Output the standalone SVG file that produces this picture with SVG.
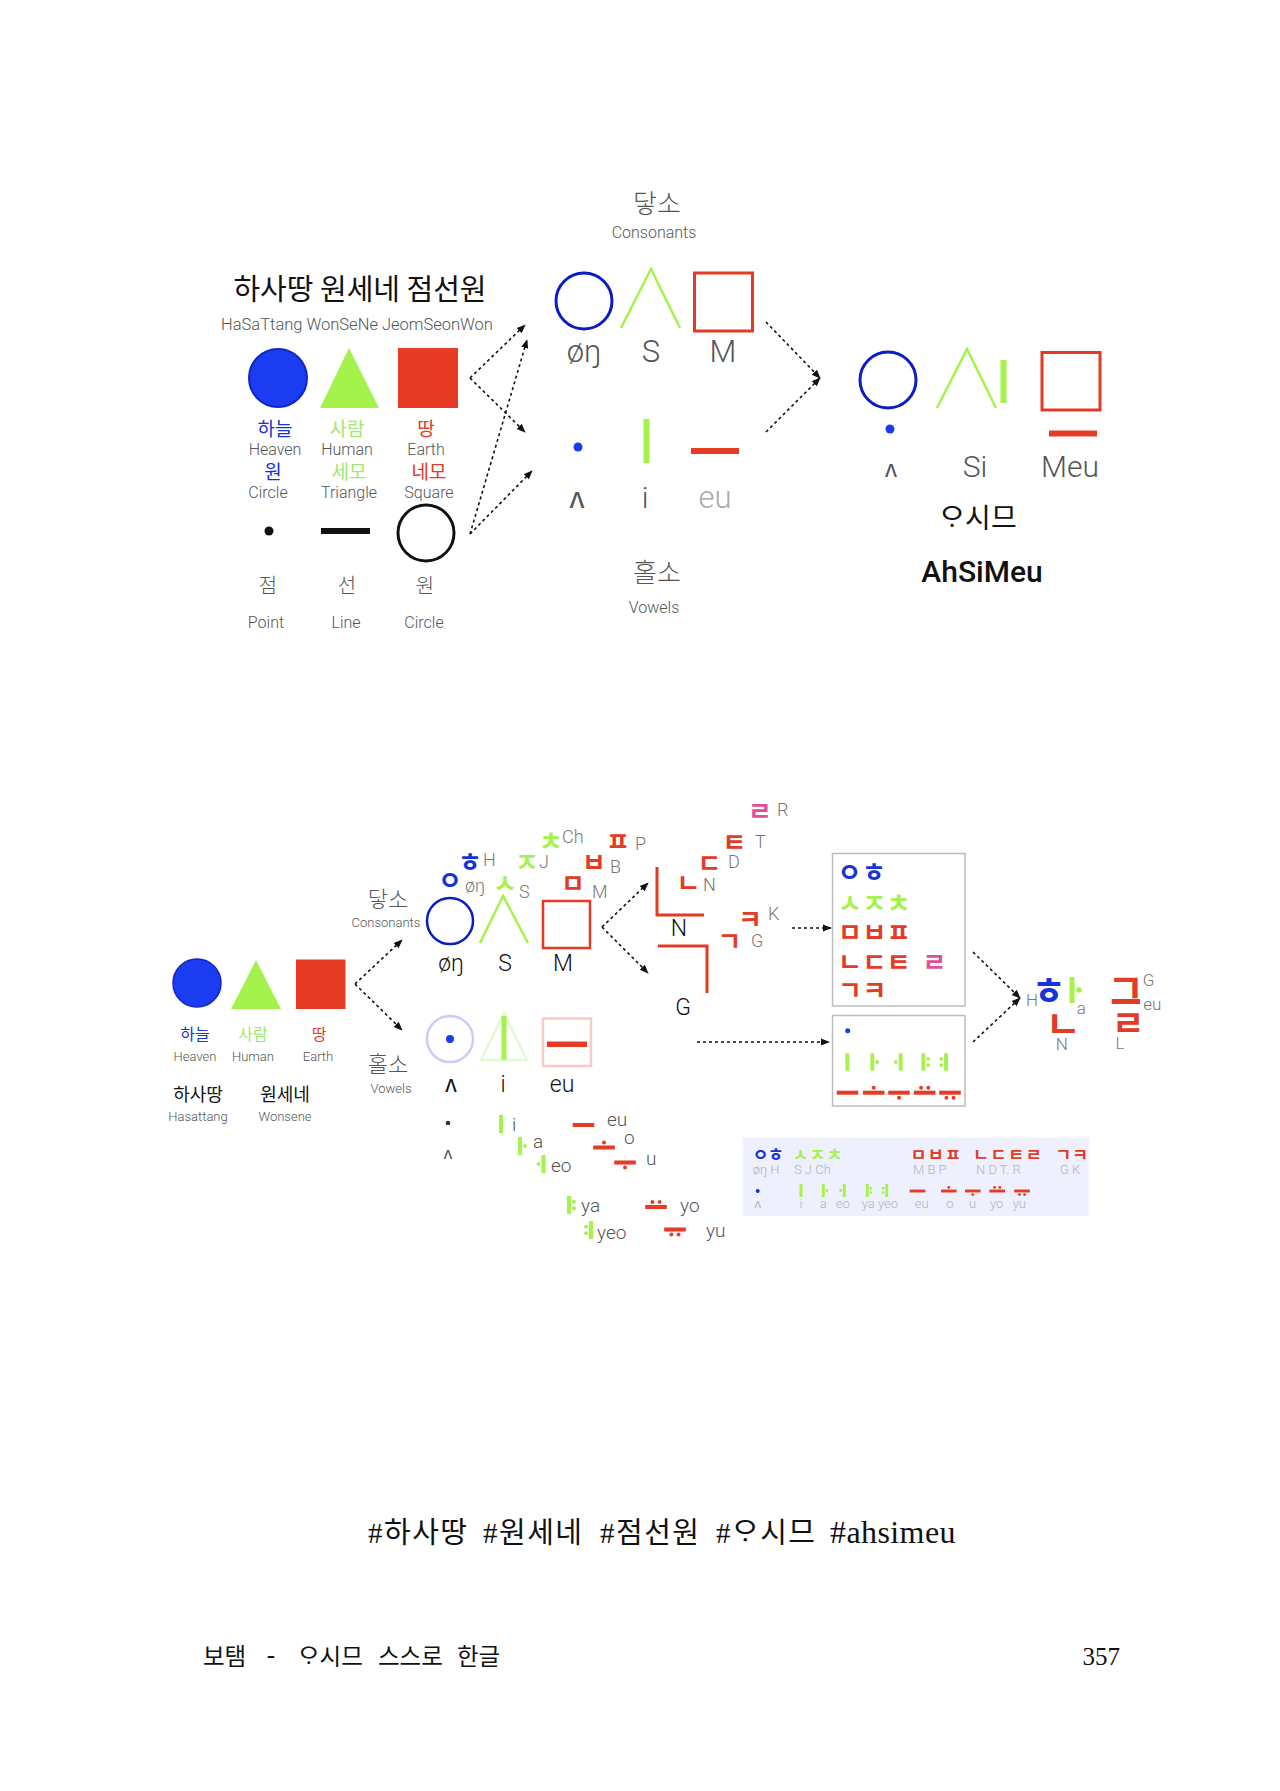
<svg xmlns="http://www.w3.org/2000/svg" xmlns:xlink="http://www.w3.org/1999/xlink" width="1280" height="1791" viewBox="0 0 1280 1791">
<defs>
<style>
.lt{font-family:Roboto,"Noto Sans CJK KR",sans-serif;font-weight:300;fill:#555;text-anchor:middle}
.ls{font-family:Roboto,"Noto Sans CJK KR",sans-serif;font-weight:300;fill:#777;text-anchor:start}
.ko{font-family:"Noto Sans CJK KR",sans-serif;font-weight:400;text-anchor:middle}
.kl{font-family:"Noto Sans CJK KR",sans-serif;font-weight:300;fill:#555;text-anchor:middle}
.jm{font-family:"Noto Sans CJK KR",sans-serif;font-weight:700;text-anchor:middle;dominant-baseline:central}
.jr{font-family:"Noto Sans CJK KR",sans-serif;font-weight:700;text-anchor:start;dominant-baseline:central}
.blk{fill:#111}
.blue{fill:#1633d6}
.green{fill:#a6f24c}
.lgreen{fill:#9fe86e}
.red{fill:#e23b26}
.pink{fill:#e0509a}
.conn line{stroke:#111;stroke-width:1.6;stroke-dasharray:3 3;fill:none;marker-end:url(#ah)}
.ol{fill:none;stroke-width:3}
.serif{font-family:"Liberation Serif","Noto Sans CJK KR",serif;fill:#111}
.kfoot{font-family:"Noto Sans CJK KR",sans-serif;font-weight:400;fill:#111}
</style>
<marker id="ah" viewBox="0 0 10 10" refX="9" refY="5" markerWidth="9" markerHeight="9" markerUnits="userSpaceOnUse" orient="auto">
<path d="M0,1 L10,5 L0,9 z" fill="#111"/>
</marker>
<g id="v_i"><rect x="-2.25" y="-10" width="4.5" height="20"/></g>
<g id="v_a"><rect x="-2.25" y="-10" width="4.5" height="20"/><circle cx="5.5" cy="0" r="2.2"/></g>
<g id="v_eo"><rect x="-2.25" y="-10" width="4.5" height="20"/><circle cx="-5.5" cy="0" r="2.2"/></g>
<g id="v_ya"><rect x="-2.25" y="-10" width="4.5" height="20"/><circle cx="5.5" cy="-3.5" r="2.2"/><circle cx="5.5" cy="3.5" r="2.2"/></g>
<g id="v_yeo"><rect x="-2.25" y="-10" width="4.5" height="20"/><circle cx="-5.5" cy="-3.5" r="2.2"/><circle cx="-5.5" cy="3.5" r="2.2"/></g>
<g id="v_eu"><rect x="-12" y="-2.25" width="24" height="4.5"/></g>
<g id="v_o"><rect x="-12" y="-2.25" width="24" height="4.5"/><circle cx="0" cy="-5.5" r="2.2"/></g>
<g id="v_u"><rect x="-12" y="-2.25" width="24" height="4.5"/><circle cx="0" cy="5.5" r="2.2"/></g>
<g id="v_yo"><rect x="-12" y="-2.25" width="24" height="4.5"/><circle cx="-4" cy="-5.5" r="2.2"/><circle cx="4" cy="-5.5" r="2.2"/></g>
<g id="v_yu"><rect x="-12" y="-2.25" width="24" height="4.5"/><circle cx="-4" cy="5.5" r="2.2"/><circle cx="4" cy="5.5" r="2.2"/></g>
</defs>
<rect width="1280" height="1791" fill="#fff"/>

<!-- ===== TOP SECTION ===== -->
<g id="title">
<text x="360" y="300" class="ko blk" font-size="29" font-weight="500">하사땅 원세네 점선원</text>
<text x="357" y="330" class="lt" font-size="16.5">HaSaTtang WonSeNe JeomSeonWon</text>
</g>

<g id="heaven">
<circle cx="278" cy="378" r="29" fill="#1c3cf2" stroke="#0f25c8" stroke-width="2"/>
<text x="275" y="436" class="ko blue" font-size="19">하늘</text>
<text x="275" y="455" class="lt" font-size="16">Heaven</text>
<text x="273" y="479" class="ko blue" font-size="19">원</text>
<text x="268" y="498" class="lt" font-size="16">Circle</text>
</g>
<g id="human">
<polygon points="349,348 320,408 379,408" fill="#a6f24c"/>
<text x="347" y="436" class="ko lgreen" font-size="19">사람</text>
<text x="347" y="455" class="lt" font-size="16">Human</text>
<text x="349" y="479" class="ko lgreen" font-size="19">세모</text>
<text x="349" y="498" class="lt" font-size="16">Triangle</text>
</g>
<g id="earth">
<rect x="398" y="348" width="60" height="60" fill="#e63c25"/>
<text x="426" y="436" class="ko red" font-size="19">땅</text>
<text x="426" y="455" class="lt" font-size="16">Earth</text>
<text x="429" y="479" class="ko red" font-size="19">네모</text>
<text x="429" y="498" class="lt" font-size="16">Square</text>
</g>

<g id="point">
<circle cx="269" cy="531" r="4.5" fill="#111"/>
<text x="268" y="593" class="kl" font-size="20">점</text>
<text x="266" y="628" class="lt" font-size="16">Point</text>
</g>
<g id="line">
<rect x="321" y="528" width="49" height="6" fill="#111"/>
<text x="347" y="593" class="kl" font-size="20">선</text>
<text x="346" y="628" class="lt" font-size="16">Line</text>
</g>
<g id="circle">
<circle cx="426" cy="533" r="28" fill="none" stroke="#111" stroke-width="3"/>
<text x="425" y="593" class="kl" font-size="20">원</text>
<text x="424" y="628" class="lt" font-size="16">Circle</text>
</g>

<g id="consonants-top">
<text x="657" y="213" class="kl" font-size="26">닿소</text>
<text x="654" y="238" class="lt" font-size="16">Consonants</text>
<circle cx="584" cy="301" r="28" class="ol" stroke="#0a1cc6"/>
<polyline points="621,328 651,269 680,328" fill="none" stroke="#a6f24c" stroke-width="2.5"/>
<rect x="694.5" y="273" width="58" height="58" class="ol" stroke="#e33a25"/>
<text x="584" y="362" class="lt" font-size="31" fill="#444">øŋ</text>
<text x="651" y="362" class="lt" font-size="31">S</text>
<text x="723" y="362" class="lt" font-size="31">M</text>
</g>

<g id="vowels-top">
<circle cx="578" cy="447" r="4.5" fill="#1a3cf0"/>
<rect x="643.5" y="419" width="6" height="44" fill="#a6f24c"/>
<rect x="691" y="448" width="48" height="6" fill="#e63c25"/>
<text x="577" y="508" class="lt" font-size="30">ʌ</text>
<text x="645" y="508" class="lt" font-size="30">i</text>
<text x="715" y="508" class="lt" font-size="31" style="fill:#aaa">eu</text>
<text x="657" y="582" class="kl" font-size="26">홀소</text>
<text x="654" y="613" class="lt" font-size="16">Vowels</text>
</g>

<g id="ahsimeu">
<circle cx="888" cy="380" r="28" class="ol" stroke="#0a1cc6"/>
<circle cx="890" cy="429" r="4.5" fill="#1a3cf0"/>
<polyline points="937,408 967,349 996,408" fill="none" stroke="#a6f24c" stroke-width="2.5"/>
<rect x="1000.5" y="360" width="6" height="43" fill="#a6f24c"/>
<rect x="1042" y="352.5" width="58" height="57.5" class="ol" stroke="#e33a25"/>
<rect x="1049" y="430.5" width="48" height="6" fill="#e63c25"/>
<text x="891" y="477" class="lt" font-size="24">ʌ</text>
<text x="975" y="477" class="lt" font-size="30">Si</text>
<text x="1070" y="477" class="lt" font-size="30">Meu</text>
<text x="978" y="528" class="ko blk" font-size="28">ᄋᆞ시므</text>
<text x="982" y="582" class="lt" font-size="30" style="font-weight:500;fill:#111">AhSiMeu</text>
</g>

<!-- ===== BOTTOM SECTION ===== -->
<g id="hst-small">
<circle cx="197" cy="983" r="24" fill="#1c3cf2" stroke="#0f25c8" stroke-width="1.5"/>
<polygon points="256,960 231,1009 281,1009" fill="#a6f24c"/>
<rect x="296" y="959.5" width="49.5" height="49.5" fill="#e63c25"/>
<text x="195" y="1040" class="ko blue" font-size="16">하늘</text>
<text x="195" y="1061" class="lt" font-size="13">Heaven</text>
<text x="253" y="1040" class="ko lgreen" font-size="16">사람</text>
<text x="253" y="1061" class="lt" font-size="13">Human</text>
<text x="319" y="1040" class="ko red" font-size="16">땅</text>
<text x="318" y="1061" class="lt" font-size="13">Earth</text>
<text x="198" y="1101" class="ko blk" font-size="18" font-weight="700">하사땅</text>
<text x="198" y="1121" class="lt" font-size="13">Hasattang</text>
<text x="285" y="1101" class="ko blk" font-size="18" font-weight="700">원세네</text>
<text x="285" y="1121" class="lt" font-size="13">Wonsene</text>
</g>

<g id="labels-small">
<text x="388" y="907" class="kl" font-size="22">닿소</text>
<text x="386" y="927" class="lt" font-size="13">Consonants</text>
<text x="388" y="1072" class="kl" font-size="22">홀소</text>
<text x="391" y="1093" class="lt" font-size="13">Vowels</text>
</g>

<g id="consonants-bottom">
<circle cx="450" cy="921" r="23" fill="none" stroke="#0a1cc6" stroke-width="2.5"/>
<polyline points="480,943 503,896 528,943" fill="none" stroke="#a6f24c" stroke-width="2.5"/>
<rect x="543" y="901" width="47" height="47" fill="none" stroke="#e33a25" stroke-width="2.5"/>
<text x="451" y="971" class="lt" font-size="23" style="fill:#111">øŋ</text>
<text x="505" y="971" class="lt" font-size="23" style="fill:#111">S</text>
<text x="563" y="971" class="lt" font-size="23" style="fill:#111">M</text>
<text x="450" y="878" class="jm blue" font-size="26">ㅇ</text>
<text x="465" y="892" class="ls" font-size="18">øŋ</text>
<text x="470" y="860" class="jm blue" font-size="26">ㅎ</text>
<text x="483" y="866" class="ls" font-size="18">H</text>
<text x="505" y="881" class="jm green" font-size="26">ㅅ</text>
<text x="519" y="898" class="ls" font-size="18">S</text>
<text x="527" y="860" class="jm green" font-size="26">ㅈ</text>
<text x="539" y="868" class="ls" font-size="18">J</text>
<text x="551" y="839" class="jm green" font-size="26">ㅊ</text>
<text x="562" y="843" class="ls" font-size="18">Ch</text>
<text x="573" y="881" class="jm red" font-size="26">ㅁ</text>
<text x="592" y="898" class="ls" font-size="18">M</text>
<text x="594" y="860" class="jm red" font-size="26">ㅂ</text>
<text x="610" y="873" class="ls" font-size="18">B</text>
<text x="618" y="839" class="jm red" font-size="26">ㅍ</text>
<text x="635" y="850" class="ls" font-size="18">P</text>
</g>

<g id="n-g">
<polyline points="657,867 657,915 704,915" fill="none" stroke="#e33a25" stroke-width="3"/>
<polyline points="658,946 707,946 707,993" fill="none" stroke="#e33a25" stroke-width="3"/>
<text x="679" y="936" class="lt" font-size="23" style="fill:#111">N</text>
<text x="683" y="1015" class="lt" font-size="23" style="fill:#111">G</text>
<text x="688.5" y="881" class="jm red" font-size="26">ㄴ</text>
<text x="703" y="891" class="ls" font-size="18">N</text>
<text x="709.5" y="861" class="jm red" font-size="26">ㄷ</text>
<text x="728" y="868" class="ls" font-size="18">D</text>
<text x="734.5" y="840" class="jm red" font-size="26">ㅌ</text>
<text x="755" y="848" class="ls" font-size="18">T</text>
<text x="760" y="809" class="jm pink" font-size="26">ㄹ</text>
<text x="777" y="816" class="ls" font-size="18">R</text>
<text x="750" y="917" class="jm red" font-size="26">ㅋ</text>
<text x="768" y="920" class="ls" font-size="18">K</text>
<text x="729.5" y="939" class="jm red" font-size="26">ㄱ</text>
<text x="751" y="947" class="ls" font-size="18">G</text>
</g>

<g id="vowels-bottom">
<circle cx="450" cy="1039" r="23" fill="none" stroke="#c9cdf7" stroke-width="2.5"/>
<circle cx="450" cy="1039" r="4" fill="#1a3cf0"/>
<polygon points="481,1060 504,1013 527,1060" fill="none" stroke="#e2fad0" stroke-width="2.5"/>
<rect x="501.5" y="1016" width="5" height="44" fill="#a6f24c"/>
<rect x="543" y="1018.5" width="48" height="47.5" fill="none" stroke="#f6cbc5" stroke-width="2.5"/>
<rect x="547" y="1041.5" width="40" height="5.5" fill="#e63c25"/>
<text x="451" y="1092" class="lt" font-size="23" style="fill:#111">ʌ</text>
<text x="503" y="1092" class="lt" font-size="23" style="fill:#111">i</text>
<text x="562" y="1092" class="lt" font-size="23" style="fill:#111">eu</text>
</g>

<g id="vowel-list">
<circle cx="448" cy="1123" r="2.3" fill="#333"/>
<text x="448" y="1159" class="lt" font-size="17">ʌ</text>
<g fill="#a6f24c">
<use xlink:href="#v_i" href="#v_i" transform="translate(501,1124) scale(0.9)"/>
<use xlink:href="#v_a" href="#v_a" transform="translate(520,1146) scale(0.9)"/>
<use xlink:href="#v_eo" href="#v_eo" transform="translate(543.5,1164) scale(0.9)"/>
<use xlink:href="#v_ya" href="#v_ya" transform="translate(569,1205) scale(0.9)"/>
<use xlink:href="#v_yeo" href="#v_yeo" transform="translate(591,1230) scale(0.9)"/>
</g>
<g fill="#e63c25">
<use xlink:href="#v_eu" href="#v_eu" transform="translate(583.5,1125) scale(0.9)"/>
<use xlink:href="#v_o" href="#v_o" transform="translate(604,1147.5) scale(0.9)"/>
<use xlink:href="#v_u" href="#v_u" transform="translate(625,1162.5) scale(0.9)"/>
<use xlink:href="#v_yo" href="#v_yo" transform="translate(656,1207) scale(0.9)"/>
<use xlink:href="#v_yu" href="#v_yu" transform="translate(675,1229.5) scale(0.9)"/>
</g>
<text x="512" y="1131" class="ls" font-size="19" style="fill:#555">i</text>
<text x="533" y="1148" class="ls" font-size="19" style="fill:#555">a</text>
<text x="551" y="1172" class="ls" font-size="19" style="fill:#555">eo</text>
<text x="607" y="1126" class="ls" font-size="19" style="fill:#555">eu</text>
<text x="624" y="1144" class="ls" font-size="19" style="fill:#555">o</text>
<text x="646" y="1165" class="ls" font-size="19" style="fill:#555">u</text>
<text x="581" y="1212" class="ls" font-size="19" style="fill:#555">ya</text>
<text x="597" y="1239" class="ls" font-size="19" style="fill:#555">yeo</text>
<text x="680" y="1212" class="ls" font-size="19" style="fill:#555">yo</text>
<text x="706" y="1237" class="ls" font-size="19" style="fill:#555">yu</text>
</g>

<g id="consonant-box">
<rect x="832.5" y="853.5" width="132.5" height="152.5" fill="#fff" stroke="#bdbdbd" stroke-width="1.5"/>
<g class="jr" font-size="26" letter-spacing="0.5">
<text x="837.5" y="870" class="blue">ㅇㅎ</text>
<text x="838" y="901.5" class="green">ㅅㅈㅊ</text>
<text x="838" y="930" class="red">ㅁㅂㅍ</text>
<text x="838" y="960" class="red">ㄴㄷㅌ</text>
<text x="922.5" y="960" class="pink">ㄹ</text>
<text x="838" y="988.5" class="red">ㄱㅋ</text>
</g>
</g>

<g id="vowel-box">
<rect x="832.5" y="1015.5" width="132.5" height="90.5" fill="#fff" stroke="#bdbdbd" stroke-width="1.5"/>
<circle cx="847.7" cy="1030.7" r="2.5" fill="#1a3cf0"/>
<g fill="#a6f24c">
<use xlink:href="#v_i" href="#v_i" transform="translate(847.3,1062) scale(0.87)"/>
<use xlink:href="#v_a" href="#v_a" transform="translate(872.3,1062) scale(0.87)"/>
<use xlink:href="#v_eo" href="#v_eo" transform="translate(900.7,1062) scale(0.87)"/>
<use xlink:href="#v_ya" href="#v_ya" transform="translate(923.3,1062) scale(0.87)"/>
<use xlink:href="#v_yeo" href="#v_yeo" transform="translate(946,1062) scale(0.87)"/>
</g>
<g fill="#e63c25">
<use xlink:href="#v_eu" href="#v_eu" transform="translate(847.5,1092.7) scale(0.9)"/>
<use xlink:href="#v_o" href="#v_o" transform="translate(873.7,1092.7) scale(0.9)"/>
<use xlink:href="#v_u" href="#v_u" transform="translate(899,1092.7) scale(0.9)"/>
<use xlink:href="#v_yo" href="#v_yo" transform="translate(924.7,1092.7) scale(0.9)"/>
<use xlink:href="#v_yu" href="#v_yu" transform="translate(950,1092.7) scale(0.9)"/>
</g>
</g>

<g id="hangeul">
<text x="1048.7" y="989" class="jm blue" font-size="37">ㅎ</text>
<rect x="1069.5" y="977" width="5" height="26" fill="#a6f24c"/>
<circle cx="1079" cy="990" r="2.8" fill="#a6f24c"/>
<text x="1063.3" y="1021" class="jm red" font-size="38">ㄴ</text>
<text x="1026" y="1006" class="ls" font-size="17">H</text>
<text x="1076.7" y="1014" class="ls" font-size="17">a</text>
<text x="1061.7" y="1050" class="lt" font-size="17" style="fill:#777">N</text>
<text x="1126" y="986" class="jm red" font-size="40">ㄱ</text>
<rect x="1111.7" y="999" width="28.3" height="5" fill="#e23b26"/>
<text x="1128.3" y="1021" class="jm red" font-size="36">ㄹ</text>
<text x="1142.7" y="986" class="ls" font-size="17">G</text>
<text x="1143.3" y="1010" class="ls" font-size="17">eu</text>
<text x="1120" y="1049" class="lt" font-size="17" style="fill:#777">L</text>
</g>

<g id="summary-table">
<rect x="742.7" y="1137.7" width="346.6" height="78.3" fill="#eef0fd"/>
<g class="jr" font-size="17.5">
<text x="752.4" y="1153" class="blue" letter-spacing="-0.7">ㅇㅎ</text>
<text x="792.6" y="1153" class="green" letter-spacing="0.8">ㅅㅈㅊ</text>
<text x="910.6" y="1153" class="red" letter-spacing="1.1">ㅁㅂㅍ</text>
<text x="973" y="1153" class="red" letter-spacing="1.5">ㄴㄷㅌㄹ</text>
<text x="1055.3" y="1153" class="red" letter-spacing="0.7">ㄱㅋ</text>
</g>
<g class="ls" font-size="13" style="fill:#b4b4bc">
<text x="752.7" y="1174">øŋ H</text>
<text x="794" y="1174">S J Ch</text>
<text x="913" y="1174">M B P</text>
<text x="976" y="1174">N D T. R</text>
<text x="1060" y="1174">G K</text>
</g>
<circle cx="757.7" cy="1191" r="2" fill="#1633d6"/>
<g fill="#a6f24c">
<use xlink:href="#v_i" href="#v_i" transform="translate(801,1190.5) scale(0.65)"/>
<use xlink:href="#v_a" href="#v_a" transform="translate(823.3,1190.5) scale(0.65)"/>
<use xlink:href="#v_eo" href="#v_eo" transform="translate(844.3,1190.5) scale(0.65)"/>
<use xlink:href="#v_ya" href="#v_ya" transform="translate(867.3,1190.5) scale(0.65)"/>
<use xlink:href="#v_yeo" href="#v_yeo" transform="translate(886.7,1190.5) scale(0.65)"/>
</g>
<g fill="#e63c25">
<use xlink:href="#v_eu" href="#v_eu" transform="translate(917.5,1191) scale(0.65)"/>
<use xlink:href="#v_o" href="#v_o" transform="translate(948.8,1191) scale(0.65)"/>
<use xlink:href="#v_u" href="#v_u" transform="translate(972.8,1191) scale(0.65)"/>
<use xlink:href="#v_yo" href="#v_yo" transform="translate(997.2,1191) scale(0.65)"/>
<use xlink:href="#v_yu" href="#v_yu" transform="translate(1022,1191) scale(0.65)"/>
</g>
<g class="lt" font-size="13" style="fill:#b4b4bc">
<text x="757.7" y="1208">ʌ</text>
<text x="801" y="1208">i</text>
<text x="823.3" y="1208">a</text>
<text x="842.7" y="1208">eo</text>
<text x="868.3" y="1208">ya</text>
<text x="888" y="1208">yeo</text>
<text x="921.7" y="1208">eu</text>
<text x="950" y="1208">o</text>
<text x="972.7" y="1208">u</text>
<text x="996.7" y="1208">yo</text>
<text x="1019.3" y="1208">yu</text>
</g>
</g>

<g id="connectors" class="conn">
<line x1="470" y1="378" x2="525" y2="325"/>
<line x1="470" y1="378" x2="525" y2="432"/>
<line x1="470" y1="534" x2="527" y2="340"/>
<line x1="470" y1="534" x2="532" y2="471"/>
<line x1="766" y1="322" x2="820" y2="378"/>
<line x1="766" y1="432" x2="820" y2="378"/>
<line x1="355" y1="984" x2="402" y2="940"/>
<line x1="355" y1="984" x2="402" y2="1030"/>
<line x1="602" y1="927" x2="648" y2="883"/>
<line x1="602" y1="927" x2="648" y2="973"/>
<line x1="792" y1="928" x2="831" y2="928"/>
<line x1="697" y1="1042" x2="829" y2="1042"/>
<line x1="973" y1="952" x2="1020" y2="998"/>
<line x1="973" y1="1042" x2="1020" y2="998"/>
</g>

<!-- ===== FOOTER ===== -->
<g id="hashtags" letter-spacing="1.5">
<text x="368" y="1543" class="serif" font-size="29">#하사땅</text>
<text x="483" y="1543" class="serif" font-size="29">#원세네</text>
<text x="600" y="1543" class="serif" font-size="29">#점선원</text>
<text x="716" y="1543" class="serif" font-size="29">#ᄋᆞ시므</text>
<text x="830" y="1543" class="serif" font-size="32" textLength="127" lengthAdjust="spacing">#ahsimeu</text>
</g>
<g id="footer">
<text x="203" y="1665" class="kfoot" font-size="23.5">보탬</text>
<text x="271" y="1663" class="serif" font-size="25" text-anchor="middle">-</text>
<text x="298" y="1665" class="kfoot" font-size="23.5">ᄋᆞ시므</text>
<text x="378" y="1665" class="kfoot" font-size="23.5">스스로</text>
<text x="457" y="1665" class="kfoot" font-size="23.5">한글</text>
<text x="1120" y="1665" class="serif" font-size="25" text-anchor="end">357</text>
</g>
</svg>
